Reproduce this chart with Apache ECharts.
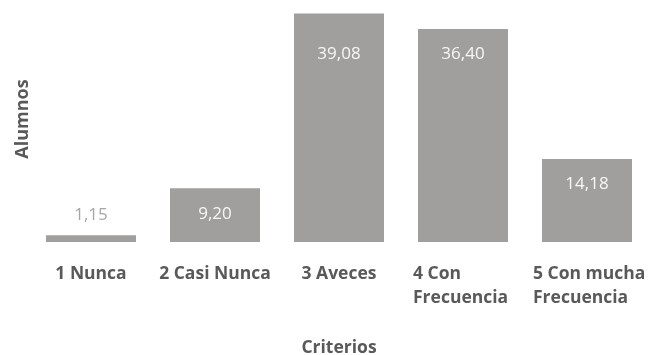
<!DOCTYPE html>
<html>
<head>
<meta charset="utf-8">
<script src="https://cdn.jsdelivr.net/npm/echarts@6/dist/echarts.min.js"></script>
<style>
  html, body { margin: 0; padding: 0; background: #ffffff; }
  #chart { width: 658px; height: 355px; }
</style>
</head>
<body>
<div id="chart"></div>
<script>
// Frecuencia con la que los alumnos eligen cada criterio
const categories = ['1 Nunca', '2 Casi Nunca', '3 Aveces', '4 Con\nFrecuencia', '5 Con mucha\nFrecuencia'];
const values = [1.15, 9.20, 39.08, 36.40, 14.18];
const yAxisName = 'Alumnos';
const xAxisName = 'Criterios';

const barColor = '#a09f9d';
const textColor = '#595959';
const font = '"Open Sans", "Noto Sans", sans-serif';
const labelSize = 17.5;

const fmt = v => v.toFixed(2).replace('.', ',');

// Small bars carry their label above; the rest inside near the top
const seriesData = values.map((v, i) => {
  const item = { value: v };
  if (v < 5) {
    item.label = { position: 'top', distance: 12, color: '#a6a6a6' };
  } else if (i === 2) {
    item.label = { distance: 32 };
  }
  return item;
});

// Multi-line category labels: lines left-aligned inside a centred block
const labelWidths = [null, null, null, 100, 108];
const xData = categories.map((c, i) => {
  if (!labelWidths[i]) return c;
  return {
    value: c,
    textStyle: {
      rich: { l: { width: labelWidths[i], align: 'left', fontWeight: 'bold', fontSize: labelSize, color: textColor, fontFamily: font, lineHeight: 24 } }
    }
  };
});

const chart = echarts.init(document.getElementById('chart'), null, { renderer: 'canvas' });
chart.setOption({
  animation: false,
  grid: { left: 29, right: 9, top: 8, bottom: 113, outerBoundsMode: 'none', containLabel: false },
  xAxis: {
    type: 'category',
    data: xData,
    axisLine: { show: false },
    axisTick: { show: false },
    axisLabel: {
      interval: 0,
      margin: 20,
      color: textColor,
      fontWeight: 'bold',
      fontSize: labelSize,
      fontFamily: font,
      lineHeight: 24,
      formatter: (val, idx) => labelWidths[idx]
        ? val.split('\n').map(s => '{l|' + s + '}').join('\n')
        : val
    },
    name: xAxisName,
    nameLocation: 'middle',
    nameGap: 97,
    nameTextStyle: { color: textColor, fontWeight: 'bold', fontSize: labelSize, fontFamily: font }
  },
  yAxis: {
    type: 'value',
    min: 0,
    max: 40,
    show: true,
    axisLine: { show: false },
    axisTick: { show: false },
    axisLabel: { show: false },
    splitLine: { show: false },
    name: yAxisName,
    nameLocation: 'middle',
    nameGap: -3,
    nameRotate: 90,
    nameTextStyle: { color: textColor, fontWeight: 'bold', fontSize: 18, fontFamily: font, padding: [0, 0, 0, 12] }
  },
  series: [{
    type: 'bar',
    data: seriesData,
    barWidth: 90,
    itemStyle: { color: barColor },
    label: {
      show: true,
      position: 'insideTop',
      distance: 17,
      color: '#f7f7f7',
      fontSize: 17,
      fontFamily: font,
      formatter: p => fmt(p.value)
    }
  }]
});
</script>
</body>
</html>
